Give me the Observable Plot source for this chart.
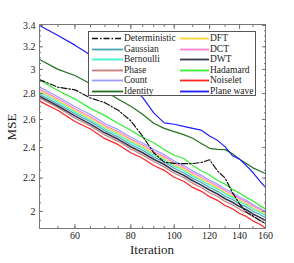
<!DOCTYPE html>
<html><head><meta charset="utf-8">
<script src="https://cdn.jsdelivr.net/npm/d3@7"></script>
<script src="https://cdn.jsdelivr.net/npm/@observablehq/plot@0.6"></script>
<style>
body{margin:0;background:#fff;}
#wrap{position:relative;width:294px;height:263px;font-family:"Liberation Serif",serif;color:#222;}
#legend{position:absolute;left:88px;top:31px;width:166px;height:63px;border:1px solid #555;background:#fff;}
.lrow{position:absolute;height:11px;font-size:9.5px;line-height:11px;white-space:nowrap;}
.lrow svg{position:absolute;left:0;top:0;}
.lrow span{position:absolute;top:0;}
.axlab{position:absolute;font-size:13px;}
</style></head><body><div id="wrap"></div>
<script>
const iterations=[50,55,60,65,70,75,80,85,90,95,100,105,110,115,120,125,130,135,140,145,150,155,160];
const deterministic=[2.914,2.851,2.830,2.765,2.728,2.670,2.590,2.480,2.365,2.302,2.294,2.292,2.293,2.300,2.318,2.245,2.200,2.110,2.043,1.996,1.975,1.950,1.932];
const gaussian=[2.795,2.718,2.643,2.583,2.519,2.474,2.421,2.382,2.336,2.303,2.262,2.234,2.198,2.172,2.141,2.118,2.089,2.069,2.043,2.026,2.001,1.984,1.965];
const bernoulli=[2.811,2.733,2.657,2.597,2.533,2.488,2.435,2.396,2.350,2.317,2.275,2.248,2.212,2.185,2.155,2.132,2.103,2.082,2.056,2.039,2.014,1.997,1.977];
const phase=[2.765,2.690,2.612,2.552,2.488,2.443,2.390,2.350,2.306,2.271,2.230,2.203,2.167,2.141,2.110,2.087,2.058,2.038,2.012,1.995,1.970,1.953,1.933];
const count=[2.852,2.774,2.697,2.637,2.571,2.526,2.472,2.432,2.386,2.352,2.310,2.281,2.244,2.217,2.186,2.162,2.132,2.110,2.083,2.065,2.039,2.020,2.000];
const identity=[3.086,3.000,2.948,2.880,2.820,2.755,2.700,2.640,2.572,2.535,2.512,2.490,2.465,2.428,2.395,2.388,2.386,2.358,2.322,2.293,2.265,2.246,2.228];
const dft=[2.822,2.745,2.668,2.609,2.544,2.499,2.446,2.406,2.360,2.327,2.285,2.257,2.221,2.194,2.164,2.140,2.111,2.090,2.063,2.046,2.021,2.003,1.983];
const dct=[2.835,2.758,2.681,2.621,2.556,2.511,2.458,2.418,2.372,2.339,2.297,2.268,2.232,2.205,2.175,2.151,2.122,2.101,2.074,2.057,2.031,2.013,1.994];
const dwt=[2.779,2.702,2.627,2.566,2.503,2.457,2.406,2.365,2.321,2.287,2.246,2.218,2.183,2.156,2.126,2.102,2.074,2.053,2.028,2.010,1.986,1.968,1.949];
const hadamard=[2.910,2.825,2.756,2.684,2.629,2.570,2.522,2.470,2.433,2.386,2.348,2.326,2.281,2.246,2.219,2.185,2.162,2.130,2.108,2.082,2.060,2.035,2.014];
const noiselet=[2.740,2.668,2.586,2.530,2.462,2.420,2.365,2.328,2.280,2.249,2.205,2.180,2.142,2.118,2.085,2.064,2.034,2.015,1.988,1.972,1.946,1.930,1.908];
const planeWave=[3.400,3.305,3.215,3.125,3.030,2.940,2.860,2.770,2.650,2.575,2.565,2.550,2.535,2.522,2.480,2.450,2.405,2.345,2.322,2.280,2.235,2.185,2.142];

const xTickLabels=[60,80,100,120,140,160];
const yTickLabels=[2,2.2,2.4,2.6,2.8,3,3.2,3.4];

const series=[
  {name:"Deterministic",values:deterministic,color:"#111111",dash:"6,2,1.5,2",w:1.2},
  {name:"Gaussian",values:gaussian,color:"#4aa8b4",w:1.2},
  {name:"Bernoulli",values:bernoulli,color:"#3ff2cf",w:1.2},
  {name:"Phase",values:phase,color:"#c47e7e",w:1.2},
  {name:"Count",values:count,color:"#9c9cff",w:1.2},
  {name:"Identity",values:identity,color:"#217021",w:1.2},
  {name:"DFT",values:dft,color:"#ffd52e",w:1.2},
  {name:"DCT",values:dct,color:"#ff7fcf",w:1.2},
  {name:"DWT",values:dwt,color:"#353a52",w:1.6},
  {name:"Hadamard",values:hadamard,color:"#35ec35",w:1.2},
  {name:"Noiselet",values:noiselet,color:"#ff2424",w:1.2},
  {name:"Plane wave",values:planeWave,color:"#1c1cff",w:1.2}
];
const drawOrder=["Identity","Plane wave","Hadamard","Count","DCT","DFT","Bernoulli","Gaussian","Phase","Noiselet","DWT","Deterministic"];

const rowsOf=s=>iterations.map((it,i)=>({it,v:s.values[i]}));
const xMinor=d3.range(50,161,5).filter(d=>d<=100||d%10===0);
const yMinor=d3.range(1.95,3.41,0.05).map(d=>+d.toFixed(2));

const lineMarks=drawOrder.map(n=>{
  const s=series.find(d=>d.name===n);
  return Plot.line(rowsOf(s),{x:"it",y:"v",stroke:s.color,strokeWidth:s.w,strokeDasharray:s.dash,clip:true});
});
const tickOpts={tickFormat:()=>"",label:null,stroke:"#777"};

const chart=Plot.plot({
  width:294,height:263,marginLeft:39,marginRight:29,marginTop:24,marginBottom:35,
  x:{type:"log",domain:[50,160]},
  y:{type:"log",domain:[1.905,3.41]},
  style:{fontFamily:'"Liberation Serif", serif',fontSize:"10px",color:"#222",background:"white"},
  marks:[
    ...lineMarks,
    Plot.text(xTickLabels,{x:d=>d,frameAnchor:"bottom",dy:10,text:d=>String(d),fontSize:10,fill:"#222"}),
    Plot.text(yTickLabels,{y:d=>d,frameAnchor:"left",dx:-4,textAnchor:"end",text:d=>String(d),fontSize:10,fill:"#222"}),
    Plot.axisX(xTickLabels,{anchor:"bottom",tickSize:-4,...tickOpts}),
    Plot.axisX(xTickLabels,{anchor:"top",tickSize:-4,...tickOpts}),
    Plot.axisX(xMinor,{anchor:"bottom",tickSize:-2,...tickOpts}),
    Plot.axisX(xMinor,{anchor:"top",tickSize:-2,...tickOpts}),
    Plot.axisY(yTickLabels,{anchor:"left",tickSize:-4,...tickOpts}),
    Plot.axisY(yTickLabels,{anchor:"right",tickSize:-4,...tickOpts}),
    Plot.axisY(yMinor,{anchor:"left",tickSize:-2,...tickOpts}),
    Plot.axisY(yMinor,{anchor:"right",tickSize:-2,...tickOpts}),
    Plot.frame({stroke:"#777"})
  ]
});
const wrap=document.getElementById("wrap");
wrap.appendChild(chart);

// axis titles
const xl=document.createElement("div");xl.className="axlab";xl.textContent="Iteration";
xl.style.left="0px";xl.style.width="304px";xl.style.textAlign="center";xl.style.top="242px";
wrap.appendChild(xl);
const yl=document.createElement("div");yl.className="axlab";yl.textContent="MSE";
yl.style.left="-8px";yl.style.top="119px";yl.style.width="40px";yl.style.textAlign="center";yl.style.transform="rotate(-90deg)";
wrap.appendChild(yl);

// legend
const leg=document.createElement("div");leg.id="legend";wrap.appendChild(leg);
const col1=["Deterministic","Gaussian","Bernoulli","Phase","Count","Identity"];
const col2=["DFT","DCT","DWT","Hadamard","Noiselet","Plane wave"];
[[col1,3,31],[col2,91,29]].forEach(([names,x0,len])=>{
  names.forEach((n,i)=>{
    const s=series.find(d=>d.name===n);
    const r=document.createElement("div");r.className="lrow";
    r.style.left=x0+"px";r.style.top=(1+i*10.6)+"px";
    r.innerHTML=`<svg width="${len}" height="11"><line x1="0" x2="${len}" y1="5.5" y2="5.5" stroke="${s.color}" stroke-width="${s.dash?1.4:1.8}" ${s.dash?`stroke-dasharray="${s.dash}"`:""}/></svg><span style="left:${len+1}px">${n}</span>`;
    leg.appendChild(r);
  });
});
</script></body></html>
